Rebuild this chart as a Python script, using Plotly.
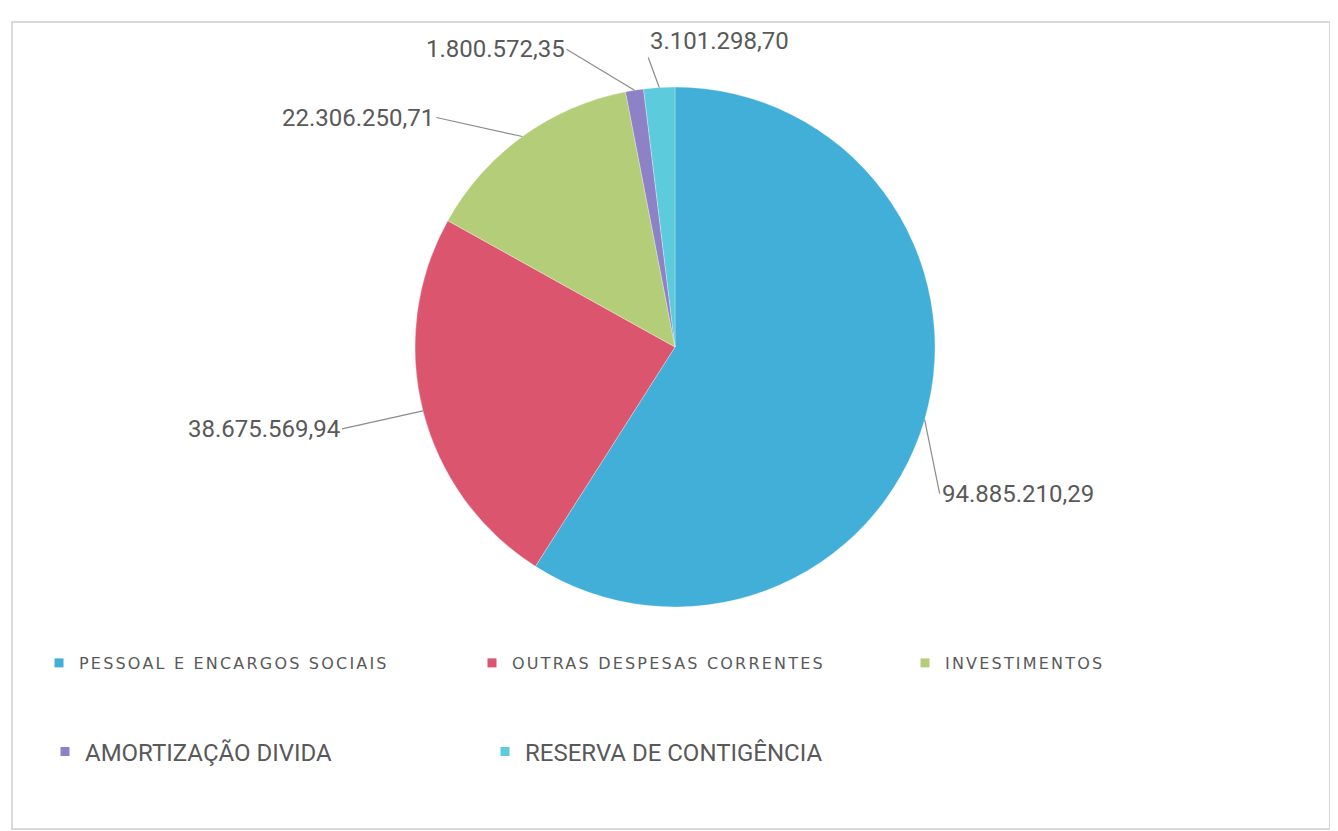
import numpy as np
import plotly.graph_objects as go

categories = ["PESSOAL E ENCARGOS SOCIAIS", "OUTRAS DESPESAS CORRENTES", "INVESTIMENTOS",
              "AMORTIZAÇÃO DIVIDA", "RESERVA DE CONTIGÊNCIA"]
values = [94885210.29, 38675569.94, 22306250.71, 1800572.35, 3101298.70]
value_labels = ["94.885.210,29", "38.675.569,94", "22.306.250,71", "1.800.572,35", "3.101.298,70"]
colors = ["#41AFD7", "#DC556E", "#B4CD78", "#8E82C7", "#5CCBDB"]

OFF = 8  # page body margin
W, H = 1338 - OFF, 831 - OFF


def fx(px):
    return (px - OFF) / W


def fy(py):
    return 1 - (py - OFF) / H


cx, cy, r = 675, 347, 260  # pie geometry in page px
dom_x = [fx(cx - r), fx(cx + r)]
dom_y = [fy(cy + r), fy(cy - r)]

fig = go.Figure()
fig.add_trace(go.Pie(
    labels=categories, values=values, sort=False, direction="clockwise", rotation=0,
    marker=dict(colors=colors, line=dict(color="white", width=0.3)),
    textinfo="none", hoverinfo="label+value", domain=dict(x=dom_x, y=dom_y),
    showlegend=False,
))

# legend entries (two rows via two legends)
for i, (c, col) in enumerate(zip(categories, colors)):
    name = c if i >= 3 else '<span style="letter-spacing:2.2px">' + c + '</span>'
    fig.add_trace(go.Scatter(
        x=[None], y=[None], mode="markers", name=name,
        marker=dict(symbol="square", size=9, color=col),
        legend="legend" if i < 3 else "legend2",
    ))

# label annotations anchored at slice mid-angles
vals = np.array(values)
cum = np.cumsum(vals) / vals.sum() * 360
start = np.concatenate([[0], cum[:-1]])
mid = np.deg2rad((start + cum) / 2)
offsets = [(15, 74, "left", "middle"), (-81, 18, "right", "middle"), (-86, -19, "right", "middle"),
           (-68, -41, "right", "middle"), (-11, -30, "left", "bottom")]
for lab, th, (ax, ay, xa, ya) in zip(value_labels, mid, offsets):
    px_ = cx + r * np.sin(th)
    py_ = cy - r * np.cos(th)
    fig.add_annotation(
        x=fx(px_), y=fy(py_), xref="paper", yref="paper",
        text=lab, showarrow=True, arrowhead=0, arrowwidth=1.2, arrowcolor="#8c8c8c",
        ax=ax, ay=ay, xanchor=xa, yanchor=ya,
        font=dict(family="Roboto", size=24, color="#595959"),
    )

fig.add_shape(type="rect", xref="paper", yref="paper",
              x0=fx(12), x1=fx(1330), y0=fy(829), y1=fy(22),
              line=dict(color="#d9d9d9", width=2), fillcolor="rgba(0,0,0,0)")

fig.update_layout(
    width=W, height=H, margin=dict(l=0, r=0, t=0, b=0),
    paper_bgcolor="white", plot_bgcolor="white",
    xaxis=dict(visible=False), yaxis=dict(visible=False),
    legend=dict(orientation="h", x=fx(48), y=fy(663), xanchor="left", yanchor="middle",
                entrywidth=388, entrywidthmode="pixels",
                font=dict(family="DejaVu Sans", size=16, color="#595959"),
                bgcolor="rgba(0,0,0,0)"),
    legend2=dict(orientation="h", x=fx(45), y=fy(752), xanchor="left", yanchor="middle",
                 entrywidth=395, entrywidthmode="pixels",
                 font=dict(family="Roboto", size=24, color="#595959"),
                 bgcolor="rgba(0,0,0,0)"),
)
fig.write_html("out.html")
